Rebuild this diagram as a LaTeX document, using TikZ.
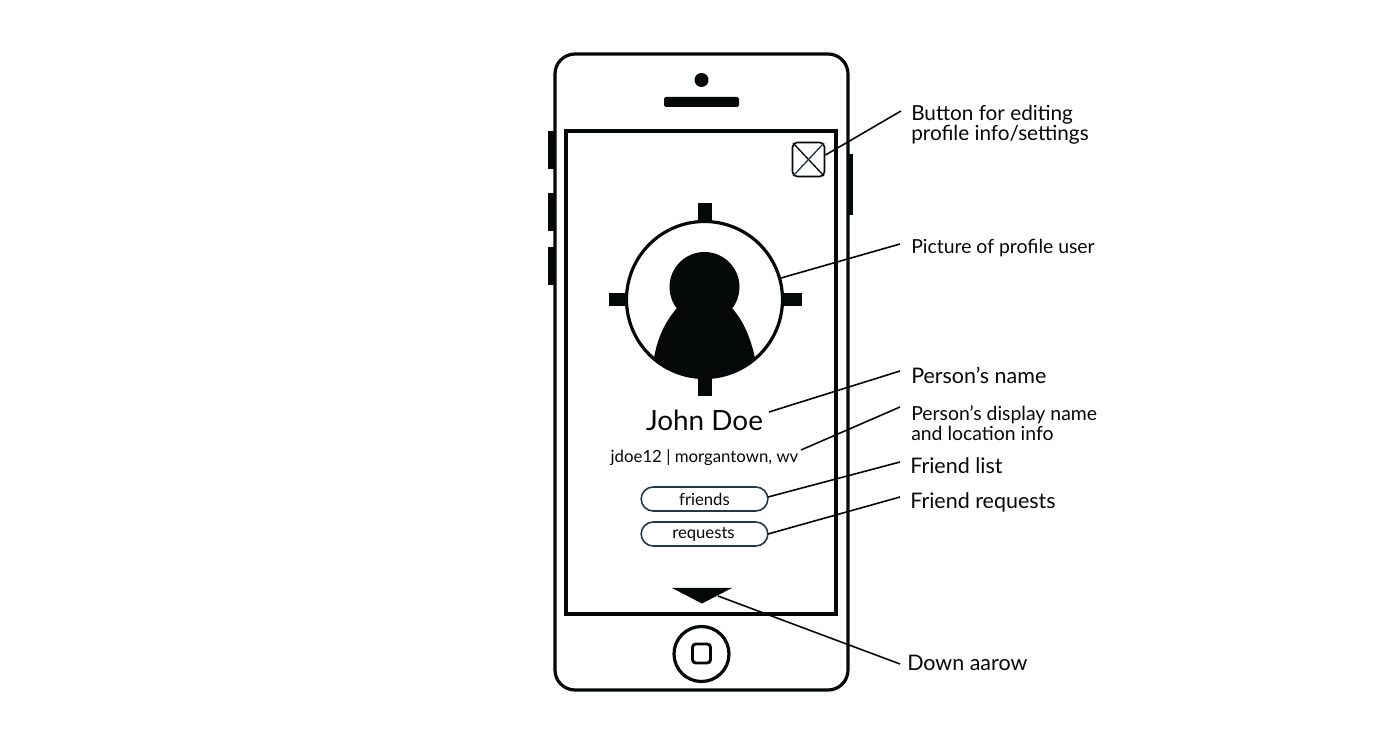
\documentclass[tikz,border=0pt]{standalone}
\usepackage{fontspec}
\setmainfont{Lato}
\definecolor{ink}{HTML}{050808}
\definecolor{pill}{HTML}{1F3A4A}
\tikzset{
  x=0.75pt,y=-0.75pt,
  heavy/.style={draw=ink,line width=2.4pt},
  solid ink/.style={fill=ink,draw=none},
  leader/.style={draw=ink,line width=1.2pt},
  label/.style={anchor=west,inner sep=0pt,align=left,text=ink,font=\fontsize{16.1}{15.2}\selectfont},
  smalllabel/.style={label,font=\fontsize{14.55}{15.2}\selectfont},
  midlabel/.style={label,font=\fontsize{15.55}{15.2}\selectfont},
  pillbox/.style={draw=pill,line width=1.2pt,rounded corners=9pt,minimum width=95pt,minimum height=18pt,inner sep=0pt,text=ink,font=\fontsize{12.5}{12.5}\selectfont},
}
\begin{document}
\begin{tikzpicture}
\useasboundingbox (0,0) rectangle (1389,737);
\fill[white] (0,0) rectangle (1389,737);
% side buttons
\fill[solid ink] (548,131) rectangle (555,169);
\fill[solid ink] (548,193) rectangle (555,231);
\fill[solid ink] (548,247) rectangle (555,285);
\fill[solid ink] (848,154) rectangle (853,215);
% body
\draw[heavy,rounded corners=15pt] (555,54) rectangle (848,690);
\draw[heavy] (566,131) rectangle (836,614);
\fill[solid ink] (701.5,80) circle[radius=7];
\fill[solid ink,rounded corners=1.2pt] (664,97) rectangle (739,107);
% home button
\draw[draw=ink,line width=2.4pt] (701.5,654) circle[radius=27.5];
\draw[draw=ink,line width=2.2pt,rounded corners=2.5pt] (692.5,644) rectangle (710.5,663);
% edit button
\node[draw=ink,line width=1.2pt,rounded corners=3.5pt,minimum width=24pt,minimum height=25.5pt,inner sep=0pt] (edit) at (808.5,159.5) {};
\draw[draw=ink,line width=1pt] (793,143) -- (824,176);
\draw[draw=pill,line width=1pt] (824,143) -- (793,176);
% avatar ticks
\fill[solid ink] (698,203) rectangle (712,222);
\fill[solid ink] (698,377) rectangle (712,396);
\fill[solid ink] (609,293) rectangle (629,306);
\fill[solid ink] (782,293) rectangle (802,306);
% avatar
\fill[white] (704.5,299.5) circle[radius=78];
\begin{scope}
\clip (704.5,299.5) circle[radius=78];
\fill[solid ink] (677,308) .. controls (664,323) and (657,340) .. (654,358) -- (654,385) -- (755,385) -- (755,358) .. controls (751,340) and (745,323) .. (732,308) -- cycle;
\fill[solid ink] (704.5,287) circle[radius=35];
\end{scope}
\draw[draw=ink,line width=2.4pt] (704.5,299.5) circle[radius=78];
\coordinate (avatar) at (781,278);
\coordinate (arrowtip) at (718,596);
% arrow
\fill[solid ink] (672,588) -- (732,588) -- (702,603.5) -- cycle;
% texts
\node[inner sep=0pt,text=ink,font=\fontsize{20.9}{21}\selectfont] (name) at (704.5,420) {John Doe};
\node[inner sep=0pt,text=ink,font=\fontsize{12.6}{13}\selectfont] (handle) at (704.5,457.5) {jdoe12 | morgantown, wv};
\node[pillbox] (friends) at (704.5,499) {\raisebox{-1pt}{friends}};
\node[pillbox] (requests) at (704.5,534) {\hspace{-1.5pt}\raisebox{-1pt}{requests}};
\coordinate (nameend) at (769,412);
\coordinate (handleend) at (801,450);
% labels
\node[midlabel] (l1) at (911,125) {Button for editing\\profile info/settings};
\node[smalllabel] (l2) at (911,248.5) {Picture of profile user};
\node[label] (l3) at (911,375.5) {Person’s name};
\node[smalllabel] (l4) at (911,423.5) {Person’s display name\\and location info};
\node[label] (l5) at (910,465.5) {Friend list};
\node[label] (l6) at (910,502) {Friend requests};
\node[label] (l7) at (907,663) {Down aarow};
\coordinate (e1) at (901,111);
\coordinate (e2) at (900,244);
\coordinate (e3) at (900,371);
\coordinate (e4) at (900,407);
\coordinate (e5) at (900,462);
\coordinate (e6) at (900,497);
\coordinate (e7) at (900,664);
\coordinate (s1) at (825.5,155);
\coordinate (s5) at (768,497);
\coordinate (s6) at (768,534);
\draw[leader] (s1) -- (e1);
\draw[leader] (avatar) -- (e2);
\draw[leader] (nameend) -- (e3);
\draw[leader] (handleend) -- (e4);
\draw[leader] (s5) -- (e5);
\draw[leader] (s6) -- (e6);
\draw[leader] (arrowtip) -- (e7);
\end{tikzpicture}
\end{document}
